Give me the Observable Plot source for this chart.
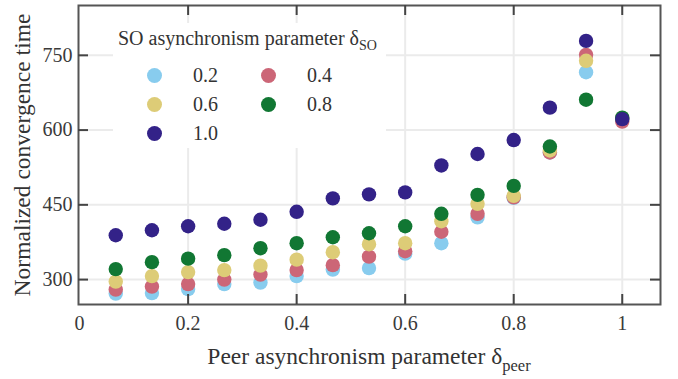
<!DOCTYPE html>
<html>
<head>
<meta charset="utf-8">
<script src="https://cdn.jsdelivr.net/npm/d3@7"></script>
<script src="https://cdn.jsdelivr.net/npm/@observablehq/plot@0.6"></script>
<style>
  html, body { margin: 0; padding: 0; background: #fff; }
  #wrap { position: relative; width: 678px; height: 379px; font-family: "Liberation Serif", "Times New Roman", serif; color: #333; }
  #legend { position: absolute; left: 113px; top: 23px; width: 273px; height: 125px; background: #fff; box-sizing: border-box; padding-top: 5px; padding-left: 5px; }
  #legend .title { font-size: 20px; line-height: 20px; white-space: nowrap; }
  #legend .sub { font-size: 0.7em; position: relative; top: 0.35em; }
  #legend .grid { display: grid; grid-template-columns: 114px 114px; grid-auto-rows: 29px; margin-top: 9.5px; margin-left: -5px; }
  #legend .item { display: flex; align-items: center; font-size: 20px; line-height: 29px; }
  #legend .sw { width: 15px; height: 15px; border-radius: 50%; margin-left: 33.5px; flex: none; }
  #legend .lab { margin-left: 31.5px; }
</style>
</head>
<body>
<div id="wrap"></div>
<script>
// ---- data ----
const peerDelta = [1/15, 2/15, 3/15, 4/15, 5/15, 6/15, 7/15, 8/15, 9/15, 10/15, 11/15, 12/15, 13/15, 14/15, 1.0];
const soLabels = ["0.2", "0.4", "0.6", "0.8", "1.0"];
const soColors = ["#88CCEE", "#CC6677", "#DDCC77", "#117733", "#332288"];
const so02 = [272, 273, 281, 291, 294, 307, 320, 323, 352, 373, 425, 464, 555, 716, 622];
const so04 = [280, 286, 291, 300, 310, 319, 329, 346, 357, 396, 432, 465, 555, 751, 617];
const so06 = [296, 307, 315, 319, 328, 340, 355, 371, 373, 417, 452, 468, 559, 739, 624];
const so08 = [321, 335, 342, 349, 363, 373, 385, 393, 407, 432, 470, 488, 567, 661, 625];
const so10 = [389, 399, 407, 412, 420, 436, 463, 471, 475, 529, 552, 580, 645, 779, 622];
const xTicks = [0, 0.2, 0.4, 0.6, 0.8, 1];
const yTicks = [300, 450, 600, 750];
const xTickLabels = ["0", "0.2", "0.4", "0.6", "0.8", "1"];

const seriesValues = [so02, so04, so06, so08, so10];
const rows = [];
seriesValues.forEach((vals, s) => vals.forEach((v, i) => rows.push({x: peerDelta[i], y: v, so: soLabels[s]})));

const axisColor = "#555";
const gridColor = "#ebebeb";
const serif = "'Liberation Serif', 'Times New Roman', serif";

const chart = Plot.plot({
  width: 678,
  height: 379,
  marginLeft: 78,
  marginRight: 18,
  marginTop: 5,
  marginBottom: 75,
  style: {fontFamily: serif, fontSize: "20px", color: "#3a3a3a", background: "#fff"},
  x: {domain: [-0.002, 1.0705]},
  y: {domain: [250, 850]},
  color: {domain: soLabels, range: soColors},
  marks: [
    Plot.gridX(xTicks.slice(1), {stroke: gridColor, strokeOpacity: 1, strokeWidth: 2}),
    Plot.gridY(yTicks, {stroke: gridColor, strokeOpacity: 1, strokeWidth: 2}),
    Plot.dot(rows, {x: "x", y: "y", fill: "so", r: 7.2}),
    Plot.frame({stroke: axisColor, strokeWidth: 2}),
    Plot.tickX(xTicks.slice(1), {x: d => d, insetTop: 289, stroke: "#444", strokeWidth: 2}),
    Plot.tickX(xTicks.slice(1), {x: d => d, insetBottom: 289, stroke: "#444", strokeWidth: 2}),
    Plot.tickY(yTicks, {y: d => d, insetRight: 572, stroke: "#444", strokeWidth: 2}),
    Plot.tickY(yTicks, {y: d => d, insetLeft: 572, stroke: "#444", strokeWidth: 2}),
    Plot.axisX({ticks: xTicks, tickSize: 0, tickPadding: 11, tickFormat: d => xTickLabels[xTicks.indexOf(d)], label: null}),
    Plot.axisY({ticks: yTicks, tickSize: 0, tickPadding: 6, label: null})
  ]
});

const wrap = document.getElementById("wrap");
wrap.appendChild(chart);

// axis titles with subscripts
const svg = d3.select(chart);
const xl = svg.append("text")
  .attr("x", 369).attr("y", 364)
  .attr("text-anchor", "middle")
  .attr("fill", "#333")
  .style("font-family", serif)
  .style("font-size", "23.5px");
xl.append("tspan").text("Peer asynchronism parameter δ");
xl.append("tspan").attr("dy", 7).style("font-size", "16.5px").text("peer");

svg.append("text")
  .attr("transform", "translate(30,155) rotate(-90)")
  .attr("text-anchor", "middle")
  .attr("fill", "#333")
  .style("font-family", serif)
  .style("font-size", "23.5px")
  .text("Normalized convergence time");

// legend
const legend = document.createElement("div");
legend.id = "legend";
const title = document.createElement("div");
title.className = "title";
title.innerHTML = 'SO asynchronism parameter δ<span class="sub">SO</span>';
legend.appendChild(title);
const grid = document.createElement("div");
grid.className = "grid";
soLabels.forEach((lab, i) => {
  const item = document.createElement("div");
  item.className = "item";
  const sw = document.createElement("span");
  sw.className = "sw";
  sw.style.background = soColors[i];
  const t = document.createElement("span");
  t.className = "lab";
  t.textContent = lab;
  item.appendChild(sw); item.appendChild(t);
  grid.appendChild(item);
});
legend.appendChild(grid);
wrap.appendChild(legend);
</script>
</body>
</html>
